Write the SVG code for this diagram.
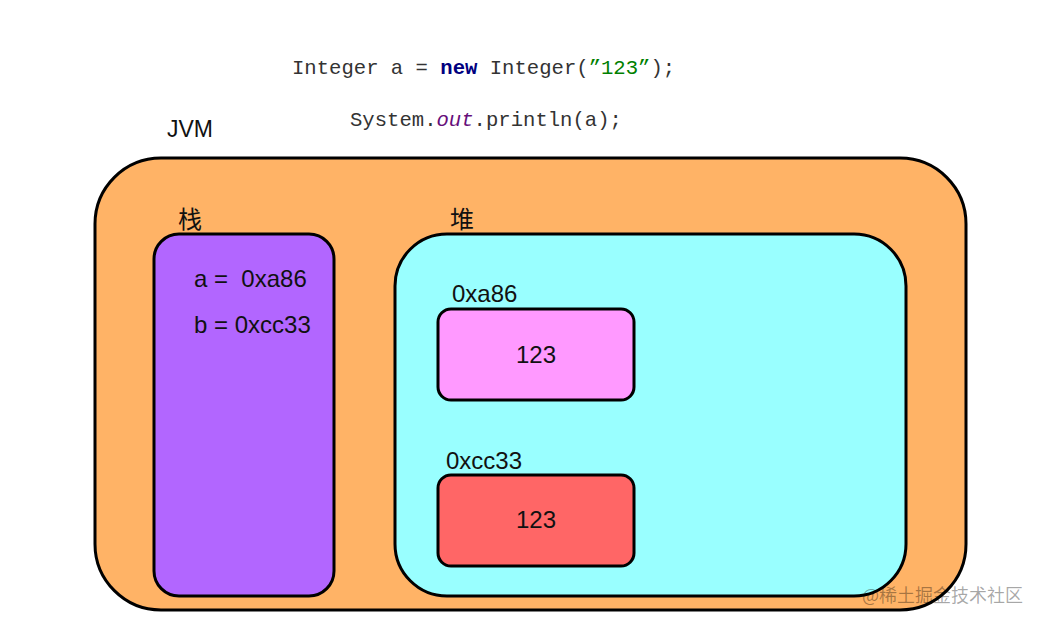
<svg xmlns="http://www.w3.org/2000/svg" width="1042" height="624" viewBox="0 0 1042 624">
<style>
.box{stroke:#000;stroke-width:3}
.t{font-family:"Liberation Sans",Arial,"Noto Sans CJK SC",sans-serif;font-size:24px;fill:#111}
.code{font-family:"Liberation Mono","Courier New",monospace;font-size:20.6px;fill:#333}
</style>
<rect width="1042" height="624" fill="#fff"/>
<g id="code">
<text class="code" x="292" y="74" xml:space="preserve">Integer a = <tspan fill="#000080" font-weight="bold">new</tspan> Integer(<tspan fill="#008000">”123”</tspan>);</text>
<text class="code" x="350" y="126">System.<tspan fill="#660E7A" font-style="italic">out</tspan>.println(a);</text>
</g>
<g id="jvm">
<rect class="box" x="95" y="158" width="871" height="452" rx="66" fill="#FFB366"/>
<text class="t" x="167" y="137" style="font-size:23px">JVM</text>
</g>
<g id="stack">
<rect class="box" x="154" y="234" width="180" height="362" rx="25" fill="#B266FF"/>
<text class="t" x="178" y="228">栈</text>
<text class="t" x="194" y="287" xml:space="preserve">a =  0xa86</text>
<text class="t" x="194" y="333">b = 0xcc33</text>
</g>
<g id="heap">
<rect class="box" x="395" y="234" width="511" height="362" rx="52" fill="#99FFFF"/>
<text class="t" x="450" y="228">堆</text>
</g>
<g id="obj1">
<text class="t" x="452" y="302">0xa86</text>
<rect class="box" x="438" y="309" width="196" height="91" rx="13" fill="#FF99FF"/>
<text class="t" x="536" y="363" text-anchor="middle">123</text>
</g>
<g id="obj2">
<text class="t" x="446" y="469">0xcc33</text>
<rect class="box" x="438" y="475" width="196" height="91" rx="13" fill="#FF6666"/>
<text class="t" x="536" y="528" text-anchor="middle">123</text>
</g>
<g id="connectors"></g>
<text x="862" y="602" font-family="'Noto Sans CJK SC',sans-serif" font-size="18" fill="#000" fill-opacity="0.35">@稀土掘金技术社区</text>
</svg>
